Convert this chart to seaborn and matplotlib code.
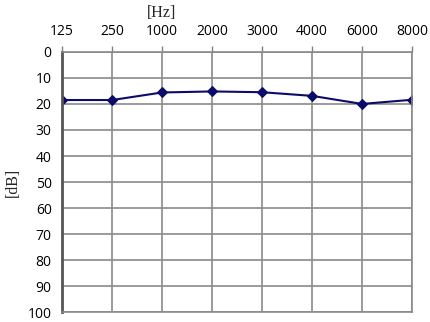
import pandas as pd
import seaborn as sns
import matplotlib.pyplot as plt
import matplotlib.transforms as mtransforms


# Dados do audiograma
frequencias = ['125', '250', '1000', '2000', '3000', '4000', '6000', '8000']
limiares_db = [18.5, 18.5, 15.6, 15.2, 15.5, 16.9, 20.0, 18.4]

df = pd.DataFrame({'freq': frequencias, 'db': limiares_db})
df['pos'] = range(len(frequencias))

sns.set_style('white')
plt.rcParams['font.family'] = ['Open Sans', 'DejaVu Sans']

fig = plt.figure(figsize=(4.31, 3.22), dpi=100)
ax = fig.add_axes([0.144, 0.03, 0.812, 0.809])

sns.lineplot(
    data=df, x='pos', y='db', ax=ax,
    color='#0b0b6b', linewidth=1.5,
    marker='D', markersize=5, markeredgecolor='#0b0b6b'
)

# Eixos
ax.set_xlim(0, len(frequencias) - 1)
ax.set_ylim(100, 0)
ax.set_xticks(df['pos'])
ax.set_xticklabels(frequencias)
ax.set_yticks(range(0, 101, 10))
ax.xaxis.tick_top()
ax.tick_params(axis='both', labelsize=10, colors='#000000', length=4,
               width=1, direction='out')
ax.tick_params(axis='x', pad=5, color='#808080')
ax.tick_params(axis='y', color='#808080')

ax.grid(True, color='#8a8a8a', linewidth=1.2)
for lado in ['top', 'right', 'bottom']:
    ax.spines[lado].set_color('#8a8a8a')
    ax.spines[lado].set_linewidth(1.2)
ax.spines['left'].set_color('#555555')
ax.spines['left'].set_linewidth(2)

ax.set_xlabel('')
ax.set_ylabel('[dB]', family='Liberation Serif', fontsize=11.5, labelpad=5)

trans = mtransforms.blended_transform_factory(ax.transData, fig.transFigure)
ax.text(2, 0.96, '[Hz]', transform=trans, ha='center', va='center',
        family='Liberation Serif', fontsize=11.5)

plt.savefig('out.png', dpi=100)
